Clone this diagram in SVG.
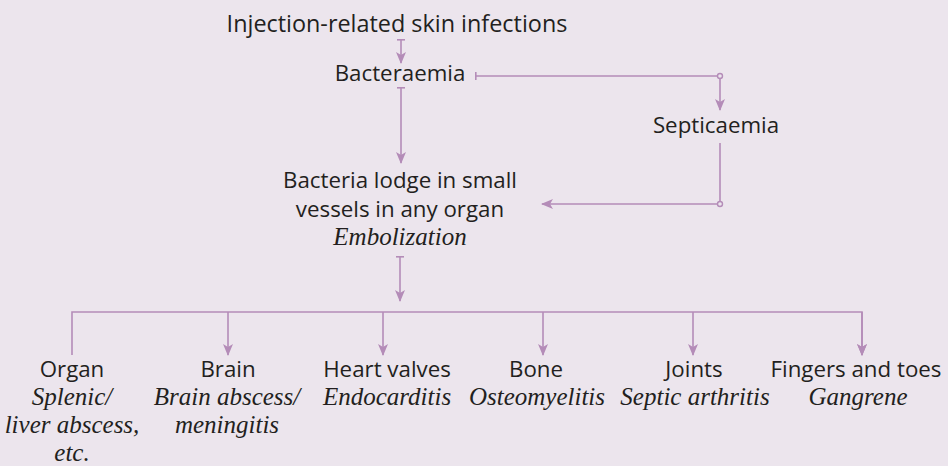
<svg xmlns="http://www.w3.org/2000/svg" width="948" height="466" viewBox="0 0 948 466">
<defs>
<marker id="ah" viewBox="0 0 12 10" refX="11" refY="5" markerWidth="12" markerHeight="10" markerUnits="userSpaceOnUse" orient="auto">
<path d="M0,0 L12,5 L0,10 L3,5 Z" fill="#b48cb8"/>
</marker>
<marker id="tick" viewBox="0 0 2 8" refX="1" refY="4" markerWidth="2" markerHeight="8" markerUnits="userSpaceOnUse" orient="auto">
<rect x="0" y="0" width="1.6" height="8" fill="#b48cb8"/>
</marker>
</defs>
<style>
.bg{fill:#ece5ed}
.s{font-family:"Open Sans","Liberation Sans",sans-serif;font-size:22.3px;fill:#231f20;text-anchor:middle}
.t{font-size:23.4px}
.i{font-family:"Liberation Serif",serif;font-style:italic;font-size:25px;fill:#231f20;text-anchor:middle}
.c{fill:none;stroke:#b48cb8;stroke-width:1.6}
.dot{fill:#ece5ed;stroke:#b48cb8;stroke-width:1.4}
</style>
<rect class="bg" x="0" y="0" width="948" height="466"/>
<g id="connectors">
<path class="c" d="M401,40 V63" marker-start="url(#tick)" marker-end="url(#ah)"/>
<path class="c" d="M476,76 H720 V110" marker-start="url(#tick)" marker-end="url(#ah)"/>
<path class="c" d="M720,143 V204 H542" marker-end="url(#ah)"/>
<path class="c" d="M401,88 V163" marker-start="url(#tick)" marker-end="url(#ah)"/>
<path class="c" d="M400,257 V301" marker-start="url(#tick)" marker-end="url(#ah)"/>
<path class="c" d="M72,355 V312 H862 V355" marker-end="url(#ah)"/>
<path class="c" d="M228,312 V355" marker-end="url(#ah)"/>
<path class="c" d="M383,312 V355" marker-end="url(#ah)"/>
<path class="c" d="M543,312 V355" marker-end="url(#ah)"/>
<path class="c" d="M693,312 V355" marker-end="url(#ah)"/>
<path class="c" d="M862,312 V355" marker-end="url(#ah)"/>
<circle class="dot" cx="720" cy="76" r="2.5"/>
<circle class="dot" cx="720" cy="204" r="2.5"/>
</g>
<g id="injection"><text class="s t" x="397" y="32">Injection-related skin infections</text></g>
<g id="bacteraemia"><text class="s" x="400" y="81">Bacteraemia</text></g>
<g id="septicaemia"><text class="s" x="716" y="133">Septicaemia</text></g>
<g id="lodge">
<text class="s" x="400" y="188">Bacteria lodge in small</text>
<text class="s" x="400" y="217">vessels in any organ</text>
<text class="i" x="400" y="245">Embolization</text>
</g>
<g id="organ">
<text class="s" x="72" y="377">Organ</text>
<text class="i" x="72" y="405">Splenic/</text>
<text class="i" x="72" y="433">liver abscess,</text>
<text class="i" x="72" y="461">etc.</text>
</g>
<g id="brain">
<text class="s" x="228" y="377">Brain</text>
<text class="i" x="227" y="405">Brain abscess/</text>
<text class="i" x="227" y="433">meningitis</text>
</g>
<g id="heart">
<text class="s" x="387" y="377">Heart valves</text>
<text class="i" x="387" y="405">Endocarditis</text>
</g>
<g id="bone">
<text class="s" x="536" y="377">Bone</text>
<text class="i" x="537" y="405">Osteomyelitis</text>
</g>
<g id="joints">
<text class="s" x="694" y="377">Joints</text>
<text class="i" x="695" y="405">Septic arthritis</text>
</g>
<g id="fingers">
<text class="s" x="856" y="377">Fingers and toes</text>
<text class="i" x="858" y="405">Gangrene</text>
</g>
</svg>
